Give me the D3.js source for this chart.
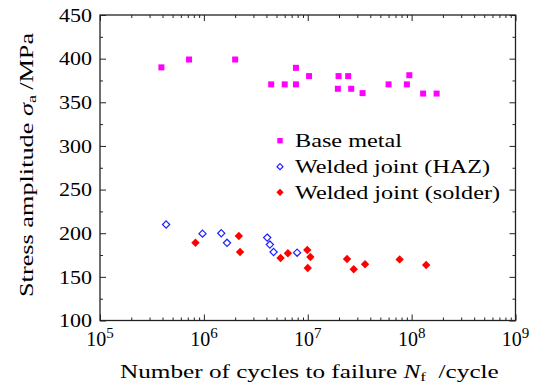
<!DOCTYPE html>
<html>
<head>
<meta charset="utf-8">
<script src="https://cdn.jsdelivr.net/npm/d3@7"></script>
<style>
  html, body { margin: 0; padding: 0; background: #fff; }
  svg { display: block; }
  text { font-family: "Liberation Serif", "DejaVu Serif", serif; fill: #000; }
</style>
</head>
<body>
<svg id="chart" width="535" height="388"></svg>
<script>
// ---- data ----
const baseN = [3.9e5, 7.2e5, 2.0e6, 4.45e6, 6.0e6, 7.7e6, 7.7e6, 1.03e7, 1.98e7, 1.95e7, 2.45e7, 2.62e7, 3.37e7, 6.0e7, 9.0e7, 9.5e7, 1.29e8, 1.74e8];
const baseS = [390, 399, 399, 370.5, 370.5, 389.5, 370.5, 380, 380, 365.5, 380, 365.5, 360.5, 370.5, 370.5, 381, 360, 360];
const hazN = [4.33e5, 9.7e5, 1.47e6, 1.67e6, 4.07e6, 4.32e6, 4.69e6, 7.9e6];
const hazS = [210, 199.5, 200, 189, 195, 187, 178.5, 177.7];
const solderN = [8.3e5, 2.17e6, 2.23e6, 5.47e6, 6.44e6, 9.9e6, 1.06e7, 1.0e7, 2.39e7, 2.77e7, 3.56e7, 7.67e7, 1.38e8];
const solderS = [189, 196.8, 178.5, 171.6, 177, 180.8, 172.8, 160.2, 170.5, 158.7, 164.4, 170, 163.6];
const xMajorTicks = [1e5, 1e6, 1e7, 1e8, 1e9];
const xTickExponents = ["5", "6", "7", "8", "9"];
const yMajorTicks = [100, 150, 200, 250, 300, 350, 400, 450];
const yMinorTicks = [125, 175, 225, 275, 325, 375, 425];
const legendLabels = ["Base metal", "Welded joint (HAZ)", "Welded joint (solder)"];

const svg = d3.select("#chart");
const L = 100, R = 515.5, T = 15, B = 320.5;
const x = d3.scaleLog().domain([1e5, 1e9]).range([L, R]);
const y = d3.scaleLinear().domain([100, 450]).range([B, T]);

const xMinor = [];
for (let e = 5; e < 9; e++) for (let k = 2; k <= 9; k++) xMinor.push(k * Math.pow(10, e));

function styleAxis(g) {
  g.select(".domain").remove();
  g.selectAll(".tick line").attr("stroke", "#222").attr("stroke-width", 1);
}

// x axes (bottom / top), ticks inward
svg.append("g").attr("transform", `translate(0,${B})`)
  .call(d3.axisBottom(x).tickValues(xMajorTicks).tickSizeInner(-6).tickSizeOuter(0).tickFormat(""))
  .call(styleAxis);
svg.append("g").attr("transform", `translate(0,${B})`)
  .call(d3.axisBottom(x).tickValues(xMinor).tickSizeInner(-3).tickSizeOuter(0).tickFormat(""))
  .call(styleAxis);
svg.append("g").attr("transform", `translate(0,${T})`)
  .call(d3.axisTop(x).tickValues(xMajorTicks).tickSizeInner(-6).tickSizeOuter(0).tickFormat(""))
  .call(styleAxis);
svg.append("g").attr("transform", `translate(0,${T})`)
  .call(d3.axisTop(x).tickValues(xMinor).tickSizeInner(-3).tickSizeOuter(0).tickFormat(""))
  .call(styleAxis);

// y axes (left / right)
const yLeft = svg.append("g").attr("transform", `translate(${L},0)`)
  .call(d3.axisLeft(y).tickValues(yMajorTicks).tickSizeInner(-6).tickSizeOuter(0).tickPadding(8).tickFormat(d3.format("d")))
  .call(styleAxis);
svg.append("g").attr("transform", `translate(${L},0)`)
  .call(d3.axisLeft(y).tickValues(yMinorTicks).tickSizeInner(-3).tickSizeOuter(0).tickFormat(""))
  .call(styleAxis);
svg.append("g").attr("transform", `translate(${R},0)`)
  .call(d3.axisRight(y).tickValues(yMajorTicks).tickSizeInner(-6).tickSizeOuter(0).tickFormat(""))
  .call(styleAxis);
svg.append("g").attr("transform", `translate(${R},0)`)
  .call(d3.axisRight(y).tickValues(yMinorTicks).tickSizeInner(-3).tickSizeOuter(0).tickFormat(""))
  .call(styleAxis);

yLeft.selectAll(".tick text")
  .attr("font-size", 19)
  .attr("fill", "#000")
  .attr("dy", "0.33em")
  .attr("textLength", 33)
  .attr("lengthAdjust", "spacingAndGlyphs");

// frame
svg.append("rect").attr("x", L).attr("y", T).attr("width", R - L).attr("height", B - T)
  .attr("fill", "none").attr("stroke", "#222").attr("stroke-width", 1.3);

// x tick labels 10^n
xMajorTicks.forEach((v, i) => {
  const t = svg.append("text").attr("y", 346).attr("font-size", 20).attr("text-anchor", "middle")
    .attr("x", x(v));
  t.append("tspan").text("10");
  t.append("tspan").attr("font-size", 15).attr("dy", -8).text(xTickExponents[i]);
});

// helper: horizontal scale to reach a target width
function fitWidth(g, target) {
  const w = g.select("text").node().getBBox().width;
  return target / w;
}

// x title
{
  const g = svg.append("g");
  const t = g.append("text").attr("font-size", 19).attr("x", 0).attr("y", 0);
  t.append("tspan").text("Number of cycles to failure ");
  t.append("tspan").attr("font-style", "italic").text("N");
  t.append("tspan").attr("font-size", 13).attr("dy", 3).text("f");
  t.append("tspan").attr("dy", -3).text("\u2002/cycle");
  const s = fitWidth(g, 379);
  g.attr("transform", `translate(120,378) scale(${s},1)`);
}
// y title
{
  const g = svg.append("g");
  const t = g.append("text").attr("font-size", 19).attr("x", 0).attr("y", 0);
  t.append("tspan").text("Stress amplitude ");
  t.append("tspan").attr("font-style", "italic").text("\u03C3");
  t.append("tspan").attr("font-size", 13).attr("dy", 3).text("a");
  t.append("tspan").attr("dy", -3).text("\u2009/MPa");
  const s = fitWidth(g, 265);
  g.attr("transform", `translate(33,297) rotate(-90) scale(${s},1)`);
}

// markers
const diamond = (r) => `M0,${-r}L${r},0L0,${r}L${-r},0Z`;
const plot = svg.append("g");
plot.selectAll("rect.base").data(d3.zip(baseN, baseS)).join("rect").attr("class", "base")
  .attr("x", d => x(d[0]) - 3).attr("y", d => y(d[1]) - 3).attr("width", 6).attr("height", 6)
  .attr("fill", "#ff00ff");
plot.selectAll("path.haz").data(d3.zip(hazN, hazS)).join("path").attr("class", "haz")
  .attr("transform", d => `translate(${x(d[0])},${y(d[1])})`).attr("d", diamond(3.6))
  .attr("fill", "none").attr("stroke", "#1f1fff").attr("stroke-width", 1.2);
plot.selectAll("path.sol").data(d3.zip(solderN, solderS)).join("path").attr("class", "sol")
  .attr("transform", d => `translate(${x(d[0])},${y(d[1])})`).attr("d", diamond(4.2))
  .attr("fill", "#ff0000");

// legend
const legY = [140.7, 166.7, 192.3];
const legTargets = [107, 195, 205];
const lg = svg.append("g");
lg.append("rect").attr("x", 280 - 2.7).attr("y", legY[0] - 2.7).attr("width", 5.4).attr("height", 5.4).attr("fill", "#ff00ff");
lg.append("path").attr("transform", `translate(280,${legY[1]})`).attr("d", diamond(3)).attr("fill", "none").attr("stroke", "#1f1fff").attr("stroke-width", 1.2);
lg.append("path").attr("transform", `translate(280,${legY[2]})`).attr("d", diamond(3.6)).attr("fill", "#ff0000");
legendLabels.forEach((lab, i) => {
  lg.append("text").attr("x", 295).attr("y", legY[i] + 6.6).attr("font-size", 19)
    .attr("textLength", legTargets[i]).attr("lengthAdjust", "spacingAndGlyphs").text(lab);
});
</script>
</body>
</html>
